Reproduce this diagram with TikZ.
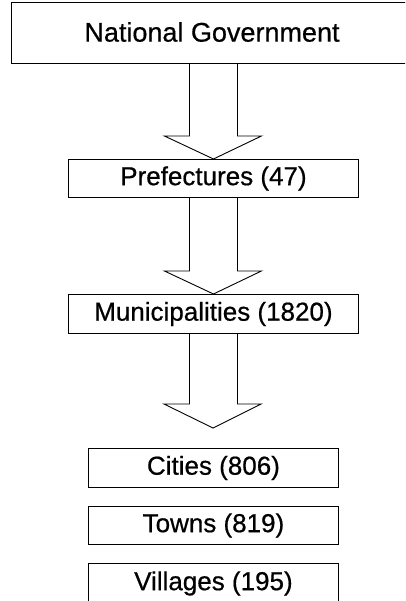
\documentclass[tikz,border=0pt]{standalone}
\usepackage{fontspec}
\setmainfont[FakeBold=0.6]{Liberation Sans}
\usetikzlibrary{calc}
\tikzset{
  box/.style={draw=black, line width=0.9pt, inner sep=0pt, anchor=north west,
    font=\fontsize{26}{30}\selectfont},
  blockarrow/.style={draw=black, line width=0.9pt, line join=miter}
}
\begin{document}
\begin{tikzpicture}[x=1pt,y=-1pt]
\useasboundingbox (0,0) rectangle (405,601);
\clip (0,0) rectangle (405,601);
% boxes (pixel-style coordinates, y downward)
\node[box, minimum width=409pt, minimum height=61pt] (gov) at (11,2) {};
\node at (212,32) [font=\fontsize{27}{31}\selectfont] (govtext) {National Government};
\node[box, minimum width=290pt, minimum height=38pt] (pref) at (68,159) {Prefectures (47)};
\node[box, minimum width=290pt, minimum height=39pt] (muni) at (68,294) {Municipalities (1820)};
\node[box, minimum width=250pt, minimum height=39pt] (cities) at (88,448) {Cities (806)};
\node[box, minimum width=250pt, minimum height=38pt] (towns) at (88,506) {Towns (819)};
\node[box, minimum width=250pt, minimum height=40pt] (villages) at (88,563) {Villages (195)};
\coordinate (tip3) at (213,428);
% block arrows
\draw[blockarrow] ($(gov.south -| pref.north)+(-24,0)$) |- ($(pref.north)+(-49,-23)$) -- (pref.north)
  -- ($(pref.north)+(48,-23)$) -| ($(gov.south -| pref.north)+(24,0)$);
\draw[blockarrow] ($(pref.south)+(-24,0)$) |- ($(muni.north)+(-49,-23)$) -- (muni.north)
  -- ($(muni.north)+(48,-23)$) -| ($(pref.south)+(24,0)$);
\draw[blockarrow] ($(muni.south)+(-24,0)$) |- ($(tip3)+(-49,-24)$) -- (tip3)
  -- ($(tip3)+(48,-24)$) -| ($(muni.south)+(24,0)$);
\end{tikzpicture}
\end{document}
